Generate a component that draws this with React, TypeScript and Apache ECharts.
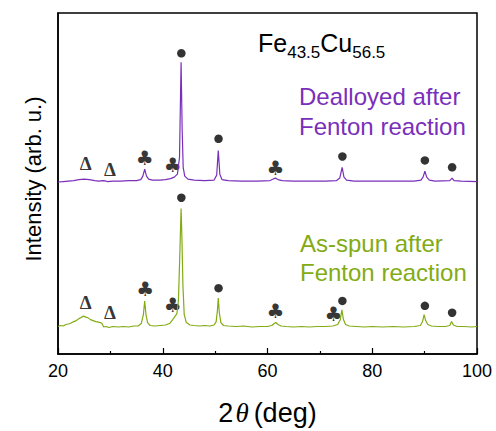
import React, { useEffect, useRef } from 'react';
import * as echarts from 'echarts';

const FONT = '"Liberation Sans", Arial, Helvetica, sans-serif';

// [2θ (deg), intensity (arb. u.)]
const dealloyed: number[][] = [
  [20, 175], [21, 175.5], [22, 176], [23, 176.5], [24, 177.5], [25, 178], [26, 177.5], [27, 176.5],
  [27.8, 176], [28.5, 176.5], [29, 176.2], [29.4, 175.5], [30.5, 176], [32, 176], [33.5, 176.5],
  [35, 176.5], [35.8, 177.5], [36.2, 181], [36.55, 188], [36.9, 181], [37.3, 178], [38, 177],
  [39.5, 177], [40.5, 177.5], [41.5, 178.5], [42.2, 180], [42.8, 183], [43.2, 200], [43.5, 297],
  [43.7, 230], [43.9, 190], [44.2, 181], [44.8, 178], [46, 177], [48, 176.5], [49.8, 177],
  [50.3, 182], [50.6, 207], [50.9, 183], [51.3, 177.5], [52.5, 176.5], [55, 176], [58, 176],
  [60.5, 176.5], [61.1, 178], [61.5, 179], [62, 177.5], [62.8, 176.5], [65, 176], [68, 176],
  [71, 176], [73.2, 176.5], [73.8, 179], [74.25, 190], [74.6, 180], [75.1, 177], [76.5, 176],
  [80, 176], [84, 176], [88, 176], [89.3, 177], [89.7, 180], [90.05, 186], [90.4, 180], [90.9, 177],
  [92, 176], [94.8, 176.5], [95.25, 179], [95.6, 176.5], [97, 176], [100, 175.5],
];

const asSpun: number[][] = [
  [20, 28], [20.5, 29], [21, 28.5], [21.5, 30], [22, 30.5], [22.5, 31.5], [23, 33], [23.5, 34],
  [24, 36], [24.5, 37.5], [24.9, 38.5], [25.3, 37.5], [25.7, 37], [26.2, 35], [26.7, 34], [27.2, 33],
  [27.7, 32.5], [28.1, 32], [28.4, 31], [28.7, 27.5], [29.2, 28], [29.7, 27], [30.5, 28], [31.5, 27.5],
  [32.5, 28], [33.5, 27.5], [34.5, 28.5], [35.3, 28.5], [35.9, 31], [36.3, 40], [36.55, 54], [36.8, 40],
  [37.1, 32], [37.6, 29], [38.5, 28.5], [39.5, 29], [40.5, 29.5], [41.3, 31], [41.9, 35], [42.3, 38],
  [42.7, 41], [43.0, 55], [43.25, 100], [43.5, 148], [43.65, 120], [43.85, 70], [44.1, 40], [44.5, 32],
  [45.2, 29.5], [46, 29], [47, 28.5], [48, 29], [49, 28.5], [49.8, 29.5], [50.2, 33], [50.45, 45],
  [50.6, 57], [50.8, 42], [51.1, 32], [51.6, 29], [52.5, 28.5], [54, 28], [55.5, 28.5], [57, 27.5],
  [58.5, 28], [60, 28], [60.8, 29], [61.3, 31], [61.6, 32], [62, 30], [62.6, 28.5], [63.5, 28],
  [65, 27.5], [66.5, 28], [68, 27.5], [69.5, 28], [71, 28], [72.5, 28.5], [73.4, 30], [73.9, 35],
  [74.2, 45], [74.5, 35], [74.9, 30], [75.6, 28.5], [77, 28], [78.5, 27.5], [80, 28], [82, 27.5],
  [84, 28], [86, 27.5], [88, 28], [89.2, 29], [89.6, 33], [89.9, 40], [90.2, 34], [90.6, 30],
  [91.3, 28.5], [92.5, 28], [94, 28], [94.8, 29], [95.15, 33], [95.5, 29.5], [96.2, 28], [97.5, 28],
  [99, 27.5], [100, 28],
];

// phase markers: ● Cu, ♣ Cu2O, Δ other
const dotMarks: number[][] = [
  [43.55, 306], [50.65, 219], [74.3, 201], [90.05, 197], [95.25, 190],
  [43.55, 159], [50.65, 67], [74.3, 54], [90.05, 49], [95.25, 42],
];
const clubMarks: number[][] = [
  [36.55, 199], [41.9, 192], [61.5, 189],
  [36.65, 66], [41.9, 50], [61.5, 44], [72.6, 41],
];
const deltaMarks: number[][] = [
  [25.3, 194], [29.9, 188],
  [25.3, 52], [29.9, 42],
];

const xTicks = { min: 20, max: 100, interval: 20 };

const PURPLE = '#7a2fba';
const GREEN = '#82ab14';

export default function App() {
  const ref = useRef<HTMLDivElement>(null);
  useEffect(() => {
    document.body.style.margin = '0';
    const chart = echarts.init(ref.current!, null, { renderer: 'svg' });
    chart.setOption({
      animation: false,
      grid: { left: 58, right: 19, top: 13, bottom: 71, show: true, borderColor: '#000', borderWidth: 1.5, backgroundColor: 'transparent' },
      xAxis: {
        type: 'value',
        min: xTicks.min,
        max: xTicks.max,
        interval: xTicks.interval,
        axisLine: { show: true, onZero: false, lineStyle: { color: '#000', width: 1.5 } },
        axisTick: { show: true, inside: true, length: 6, lineStyle: { color: '#000', width: 1.2 } },
        minorTick: { show: true, splitNumber: 2, length: 3, lineStyle: { color: '#000', width: 1.2 } },
        splitLine: { show: false },
        axisLabel: { color: '#000', fontSize: 18, fontFamily: FONT, margin: 8 },
        name: '{a|2}{t|θ}{a|(deg)}',
        nameLocation: 'middle',
        nameGap: 45,
        nameTextStyle: {
          rich: {
            a: { fontSize: 27, fontFamily: FONT, color: '#000' },
            t: { fontSize: 27, fontStyle: 'italic', fontFamily: '"Liberation Serif", "DejaVu Serif", serif', color: '#000', padding: [0, 5, 0, 2] },
          },
        },
      },
      yAxis: {
        type: 'value',
        min: 0,
        max: 347,
        axisLine: { show: true, lineStyle: { color: '#000', width: 1.5 } },
        axisTick: { show: false },
        axisLabel: { show: false },
        splitLine: { show: false },
      },
      series: [
        { type: 'line', data: dealloyed, showSymbol: false, lineStyle: { color: PURPLE, width: 1.2 }, itemStyle: { color: PURPLE } },
        { type: 'line', data: asSpun, showSymbol: false, lineStyle: { color: GREEN, width: 1.2 }, itemStyle: { color: GREEN } },
        { type: 'scatter', data: dotMarks, symbol: 'circle', symbolSize: 8.5, itemStyle: { color: '#000' } },
        {
          type: 'scatter', data: clubMarks, symbol: 'circle', symbolSize: 1, itemStyle: { color: 'transparent' },
          label: { show: true, position: 'inside', formatter: '♣', fontSize: 20, color: '#000', fontFamily: '"DejaVu Sans", sans-serif' },
        },
        {
          type: 'scatter', data: deltaMarks, symbol: 'circle', symbolSize: 1, itemStyle: { color: 'transparent' },
          label: { show: true, position: 'inside', formatter: 'Δ', fontSize: 19, fontWeight: 'bold', color: '#000', fontFamily: '"Liberation Serif", serif' },
        },
      ],
      graphic: [
        {
          type: 'text', x: 33, y: 179, rotation: Math.PI / 2,
          style: { text: 'Intensity (arb. u.)', fontSize: 22, fontFamily: FONT, fill: '#000', align: 'center', verticalAlign: 'middle' },
        },
        {
          type: 'text', left: 258, top: 30,
          style: {
            text: '{m|Fe}{s|43.5}{m|Cu}{s|56.5}',
            rich: {
              m: { fontSize: 25, fontFamily: FONT, fill: '#000' },
              s: { fontSize: 17, fontFamily: FONT, fill: '#000', padding: [20, 0, 0, 0] },
            },
          },
        },
        { type: 'text', x: 299, y: 96.6, style: { text: 'Dealloyed after', fontSize: 24, fontFamily: FONT, fill: PURPLE, verticalAlign: 'middle' } },
        { type: 'text', x: 299, y: 126.6, style: { text: 'Fenton reaction', fontSize: 24, fontFamily: FONT, fill: PURPLE, verticalAlign: 'middle' } },
        { type: 'text', x: 300, y: 243.3, style: { text: 'As-spun after', fontSize: 24, fontFamily: FONT, fill: GREEN, verticalAlign: 'middle' } },
        { type: 'text', x: 300, y: 272, style: { text: 'Fenton reaction', fontSize: 24, fontFamily: FONT, fill: GREEN, verticalAlign: 'middle' } },
      ],
    });
    return () => chart.dispose();
  }, []);
  return <div ref={ref} style={{ width: 496, height: 431 }} />;
}
